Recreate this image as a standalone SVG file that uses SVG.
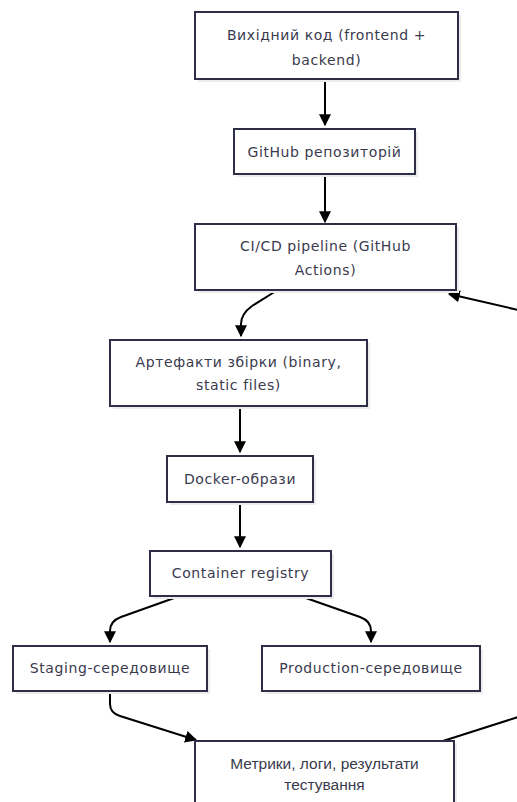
<svg xmlns="http://www.w3.org/2000/svg" width="517" height="802" viewBox="0 0 517 802">
<style>
.box{fill:#fff;stroke:#2e2e48;stroke-width:2}
.sh{fill:#ececec}
.t{font-family:"DejaVu Sans","Noto Sans",sans-serif;font-size:14px;letter-spacing:0.6px;fill:#3a3a4e;text-anchor:middle}
.m{font-family:"Liberation Sans",Arial,sans-serif;font-size:15.5px;letter-spacing:0}
.e{fill:none;stroke:#000;stroke-width:2}
</style>
<defs>
<marker id="ah" viewBox="0 0 10 10" refX="9" refY="5" markerWidth="6" markerHeight="6" orient="auto" markerUnits="strokeWidth">
<path d="M0,0 L10,5 L0,10 Z" fill="#000"/>
</marker>
</defs>
<rect width="517" height="802" fill="#fff"/>
<g id="connectors">
<path class="e" d="M325,79 V125" marker-end="url(#ah)"/>
<path class="e" d="M325,174 V222" marker-end="url(#ah)"/>
<path class="e" d="M276,291 L252,306 Q241,314 241,324 V336" marker-end="url(#ah)"/>
<path class="e" d="M240,406 V452" marker-end="url(#ah)"/>
<path class="e" d="M240,502 V547" marker-end="url(#ah)"/>
<path class="e" d="M177,597 L121,617 Q110,621 110,631 V642" marker-end="url(#ah)"/>
<path class="e" d="M303,597 L360,617 Q371,621 371,631 V642" marker-end="url(#ah)"/>
<path class="e" d="M110,691 V704 Q110,713 120,716 L196,740" marker-end="url(#ah)"/>
<path class="e" d="M443,741 L540,710"/>
<path class="e" d="M540,315 L449,294" marker-end="url(#ah)"/>
</g>
<g id="n1"><rect class="sh" x="198" y="15" width="263" height="67"/><rect class="box" x="195" y="12" width="263" height="67"/><text class="t" x="326.5" y="40">Вихідний код (frontend +</text><text class="t" x="326.5" y="65">backend)</text></g>
<g id="n2"><rect class="sh" x="237" y="132" width="181" height="45"/><rect class="box" x="234" y="129" width="181" height="45"/><text class="t" x="324.5" y="156.5">GitHub репозиторій</text></g>
<g id="n3"><rect class="sh" x="198" y="227" width="261" height="66"/><rect class="box" x="195" y="224" width="261" height="66"/><text class="t" x="325.5" y="251">CI/CD pipeline (GitHub</text><text class="t" x="325.5" y="275">Actions)</text></g>
<g id="n4"><rect class="sh" x="113" y="343" width="257" height="66"/><rect class="box" x="110" y="340" width="257" height="66"/><text class="t" x="238.5" y="367">Артефакти збірки (binary,</text><text class="t" x="238.5" y="390">static files)</text></g>
<g id="n5"><rect class="sh" x="170" y="459" width="146" height="46"/><rect class="box" x="167" y="456" width="146" height="46"/><text class="t" x="240" y="483.5">Docker-образи</text></g>
<g id="n6"><rect class="sh" x="153" y="554" width="181" height="45"/><rect class="box" x="150" y="551" width="181" height="45"/><text class="t" x="240.5" y="578">Container registry</text></g>
<g id="n7"><rect class="sh" x="16" y="649" width="194" height="45"/><rect class="box" x="13" y="646" width="194" height="45"/><text class="t" x="110" y="673">Staging-середовище</text></g>
<g id="n8"><rect class="sh" x="265" y="649" width="218" height="45"/><rect class="box" x="262" y="646" width="218" height="45"/><text class="t" x="371" y="673">Production-середовище</text></g>
<g id="n9"><rect class="sh" x="198" y="744" width="259" height="70"/><rect class="box" x="195" y="741" width="259" height="70"/><text class="t m" x="324.5" y="769">Метрики, логи, результати</text><text class="t m" x="324.5" y="790">тестування</text></g>
</svg>
